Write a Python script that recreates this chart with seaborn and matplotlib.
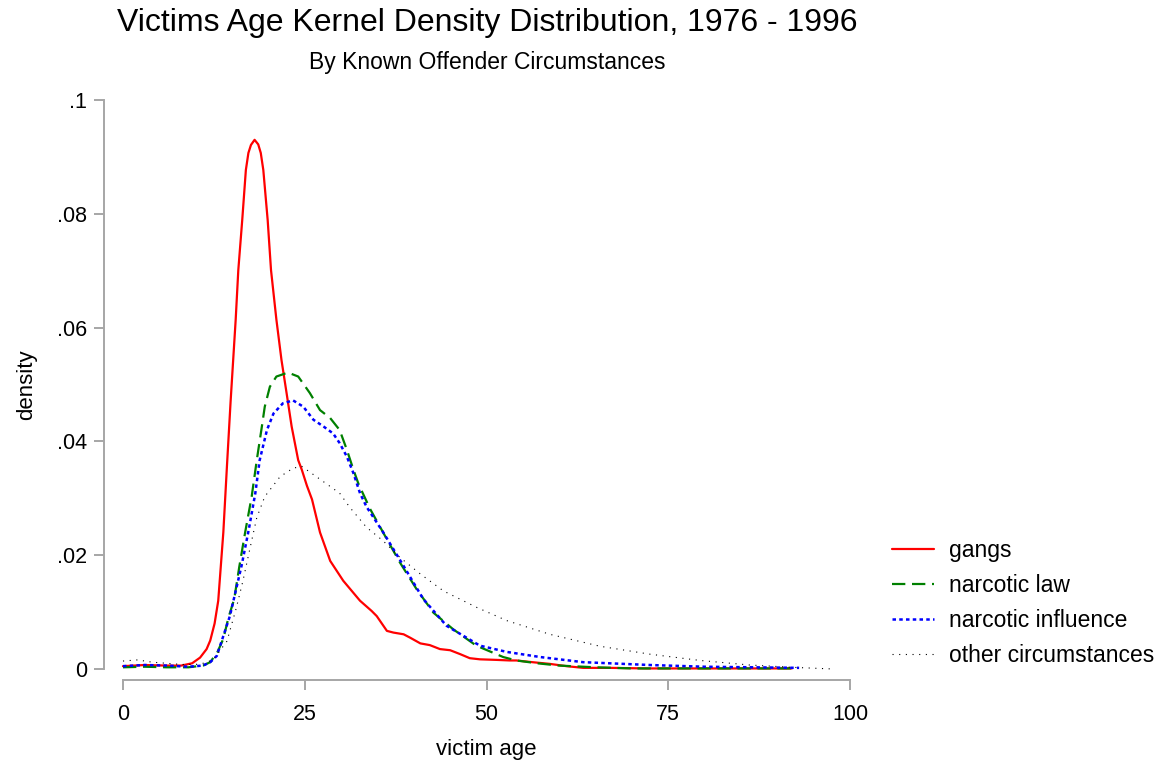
import matplotlib
matplotlib.use("Agg")
import matplotlib.pyplot as plt
import seaborn as sns
import pandas as pd

# ---- data ----
gangs_x = [0, 3, 6, 8, 9.5, 10.6, 11.5, 12, 12.6, 13.1, 13.8, 14.3, 14.8, 15.5, 15.86, 16.4,
           16.9, 17.25, 17.6, 18.1, 18.6, 18.95, 19.3, 19.9, 20.36, 21.1, 21.8, 22.5, 23.2,
           24.1, 24.6, 25.3, 26.0, 27.1, 28.5, 30.3, 32.6, 34.2, 34.9, 36.3, 37.2, 38.6, 39.5,
           40.9, 42.2, 43.6, 45.0, 46.4, 47.7, 49.1, 51.4, 53.2, 54.1, 56.3, 58.7, 61, 63.3,
           67, 72, 80, 86, 92]
gangs_y = [.0005, .0007, .0006, .0006, .0010, .0020, .0035, .0050, .0080, .0120, .0240, .0357,
           .0470, .0614, .0701, .0789, .0877, .0907, .0921, .0930, .0922, .0907, .0877, .0789,
           .0701, .0614, .0543, .0485, .0426, .0367, .0350, .0322, .0298, .0240, .0190, .0155,
           .0120, .0102, .0093, .0067, .0064, .0061, .0055, .0045, .0042, .0035, .0033, .0026,
           .0019, .0017, .0016, .0015, .0015, .0012, .0009, .0005, .0002, .0002, .0001, .0001,
           .0001, .0001]

law_x = [0, 3, 6, 9, 11, 12, 13, 13.8, 14.5, 15.3, 16.0, 16.8, 17.7, 18.4, 19.1, 19.5, 20.2,
         21.1, 22.7, 24.1, 25.7, 27.1, 28.5, 29.8, 30.8, 31.7, 32.4, 34.0, 36.3, 38.1, 40.4,
         42.7, 45.4, 48.6, 52.3, 54.1, 57, 60, 65, 70, 80, 92]
law_y = [.0003, .0004, .0003, .0003, .0006, .0012, .0030, .0053, .0090, .0123, .0180, .0240,
         .0303, .0367, .0426, .0461, .0496, .0514, .0521, .0514, .0485, .0455, .0441, .0420,
         .0385, .0350, .0325, .0281, .0228, .0187, .0140, .0099, .0070, .0041, .0021, .0015,
         .0010, .0006, .0003, .0001, .0001, .0001]

infl_x = [0, 3, 6, 9, 11, 12, 12.9, 14.7, 16.3, 17.3, 18.2, 18.8, 19.8, 20.7, 22.0, 23.4, 24.8,
          26.2, 27.6, 28.9, 29.8, 30.8, 31.7, 32.6, 33.5, 35.8, 38.6, 41.3, 44.5, 49.1, 52.8,
          57.4, 63.3, 72.5, 80, 93]
infl_y = [.0005, .0007, .0006, .0004, .0006, .0012, .0023, .0093, .0181, .0245, .0309, .0367,
          .0420, .0449, .0467, .0472, .0461, .0438, .0426, .0414, .0397, .0373, .0344, .0309,
          .0285, .0240, .0181, .0123, .0076, .0041, .0030, .0021, .0012, .0007, .0004, .0002]

other_x = [0, 2, 4, 6, 8, 10, 11, 12.4, 14.3, 15.6, 16.5, 17.5, 18.4, 19.5, 21.6, 23.4, 24.6,
           26.6, 29.8, 31.2, 33.5, 35.8, 38.1, 40.9, 44.1, 48.7, 52.8, 58.7, 65.6, 72.5, 79.4,
           86.2, 92, 97.7]
other_y = [.0014, .0016, .0012, .0010, .0008, .0008, .0010, .0016, .0049, .0108, .0155, .0214,
           .0266, .0303, .0338, .0353, .0356, .0338, .0309, .0284, .0249, .0225, .0196, .0167,
           .0137, .0108, .0085, .0061, .0040, .0026, .0015, .0007, .0003, .0000]

labels = ["gangs", "narcotic law", "narcotic influence", "other circumstances"]
x_ticks = [0, 25, 50, 75, 100]
y_ticks = [0, .02, .04, .06, .08, .1]
y_tick_labels = ["0", ".02", ".04", ".06", ".08", ".1"]

# ---- figure ----
sns.set_style("white")
plt.rcParams["font.family"] = ["Liberation Sans", "DejaVu Sans"]
plt.rcParams["text.color"] = "black"
plt.rcParams["axes.labelcolor"] = "black"

W, H = 1165, 766
fig = plt.figure(figsize=(W / 100, H / 100), dpi=100)
y0_px, y1_px = 669, 100
x0_px, x1_px = 123, 850
ax = fig.add_axes([x0_px / W, 1 - y0_px / H, (x1_px - x0_px) / W, (y0_px - y1_px) / H])

styles = [
    dict(color="#ff0000", lw=1.6, ls="-"),
    dict(color="#008000", lw=1.6, ls=(0, (6, 3))),
    dict(color="#0000ff", lw=1.8, ls=(0, (1.4, 1.3))),
    dict(color="#000000", lw=0.8, ls=(0, (1, 5))),
]
series = [(gangs_x, gangs_y), (law_x, law_y), (infl_x, infl_y), (other_x, other_y)]
for (xs, ys), lab, st in zip(series, labels, styles):
    df = pd.DataFrame({"age": xs, "density": ys})
    sns.lineplot(data=df, x="age", y="density", ax=ax, label=lab, color=st["color"],
                 linewidth=st["lw"], linestyle=st["ls"], clip_on=False)

ax.set_xlim(0, 100)
ax.set_ylim(0, 0.1)
ax.set_xticks(x_ticks)
ax.set_xticklabels([str(t) for t in x_ticks])
ax.set_yticks(y_ticks)
ax.set_yticklabels(y_tick_labels)

spine_col = "#a6a6a6"
for s in ["top", "right"]:
    ax.spines[s].set_visible(False)
ax.spines["left"].set_position(("outward", 13.5))   # points
ax.spines["bottom"].set_position(("outward", 8))
ax.spines["left"].set_bounds(0, 0.1)
ax.spines["bottom"].set_bounds(0, 100)
for s in ["left", "bottom"]:
    ax.spines[s].set_color(spine_col)
    ax.spines[s].set_linewidth(1.4)
ax.tick_params(axis="both", which="major", length=7.5, width=1.4, color=spine_col,
               labelsize=15.5, labelcolor="black", direction="out", left=True, bottom=True)
ax.tick_params(axis="y", pad=5)
ax.tick_params(axis="x", pad=10)

ax.set_xlabel("victim age", fontsize=16, labelpad=10)
ax.set_ylabel("density", fontsize=16, labelpad=14)

fig.text(487 / W, 1 - 23 / H, "Victims Age Kernel Density Distribution, 1976 - 1996",
         ha="center", va="center", fontsize=23)
fig.text(487 / W, 1 - 62 / H, "By Known Offender Circumstances",
         ha="center", va="center", fontsize=16.5)

ax.legend(loc="upper left", bbox_to_anchor=(892 / W, 1 - 539 / H),
          bbox_transform=fig.transFigure, frameon=False, fontsize=16.5,
          handlelength=1.83, handletextpad=0.65, labelspacing=0.52, borderpad=0,
          borderaxespad=0)

fig.savefig("out.png", dpi=100)
